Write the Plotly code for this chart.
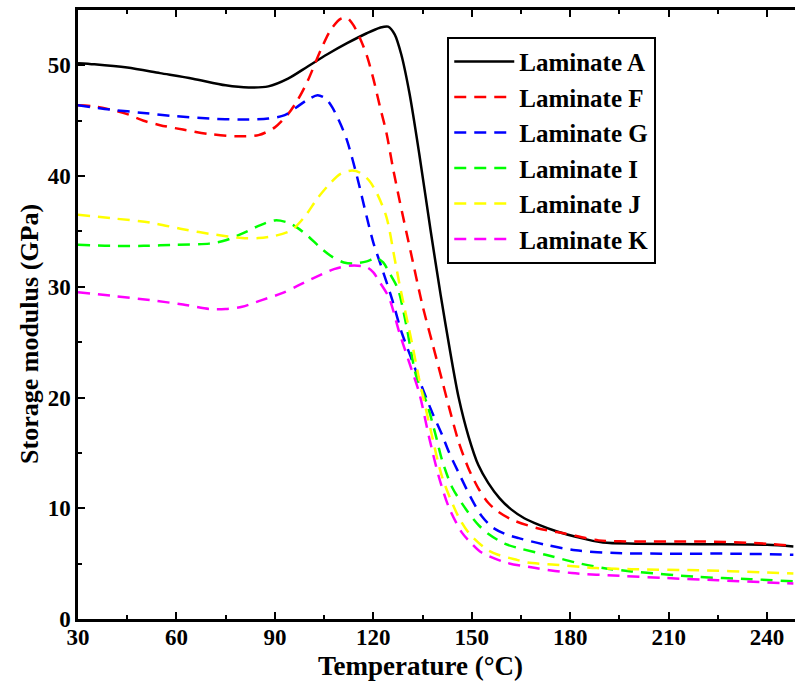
import plotly.graph_objects as go

# ---- data ----
T_A = [30, 35, 45, 55, 65, 75, 82, 88, 94, 100, 106, 112, 118, 122, 124.5, 126.5, 128.5, 131, 134, 137.5, 140.5, 143.5, 146, 149, 152, 155, 158.5, 162, 166, 170.5, 176, 182, 190, 200, 220, 240, 248]
E_A = [50.2, 50.1, 49.8, 49.3, 48.8, 48.2, 48.0, 48.1, 48.8, 49.9, 51.0, 52.0, 52.9, 53.4, 53.5, 52.8, 51.0, 47.5, 42.0, 35.0, 29.3, 24.0, 20.0, 16.5, 13.9, 12.3, 10.9, 9.9, 9.1, 8.5, 7.9, 7.4, 6.9, 6.8, 6.75, 6.7, 6.55]

T_F = [30, 35, 40, 45, 50, 55, 62, 70, 78, 85, 90, 94, 97, 100, 104, 107, 110, 112, 114, 116, 118, 120, 122, 124, 126, 128, 131.5, 135, 138, 141, 143, 146, 149, 152, 155, 158, 162, 170, 178.6, 188.7, 200, 220, 240, 248]
E_F = [46.4, 46.3, 46.0, 45.6, 45.0, 44.6, 44.2, 43.8, 43.6, 43.7, 44.4, 45.6, 46.9, 48.6, 51.4, 53.2, 54.2, 54.3, 53.6, 52.4, 50.9, 48.8, 46.3, 43.9, 40.7, 37.8, 33.0, 28.3, 24.9, 21.5, 19.2, 16.0, 13.6, 11.8, 10.5, 9.7, 9.0, 8.2, 7.7, 7.1, 7.0, 7.0, 6.8, 6.6]

T_G = [30, 40, 50, 60, 70, 80, 88, 93, 96.5, 100, 103, 105.5, 107.5, 110, 112, 115, 118, 120, 122.7, 125.8, 128.5, 131.5, 134.5, 138, 141, 143, 146.5, 150, 153, 156.2, 160, 164.3, 172.5, 181.7, 194, 210, 230, 248]
E_G = [46.4, 46.0, 45.7, 45.4, 45.2, 45.1, 45.2, 45.5, 46.2, 46.9, 47.3, 47.0, 46.2, 44.7, 43.2, 40.0, 36.3, 34.0, 31.6, 28.8, 26.0, 23.6, 21.2, 18.6, 16.6, 15.1, 12.9, 10.8, 9.3, 8.3, 7.7, 7.3, 6.7, 6.2, 5.95, 5.9, 5.9, 5.8]

T_I = [30, 40, 50, 60, 70, 75, 80, 85, 90, 94, 97, 100, 104, 107.5, 111, 114, 118, 121, 123, 125, 127.5, 130, 133, 136.4, 139, 141, 144, 148.5, 152, 155, 160, 164.3, 172.5, 181.7, 190, 198.7, 219, 235, 248]
E_I = [33.8, 33.7, 33.7, 33.8, 33.9, 34.2, 34.8, 35.5, 36.0, 35.8, 35.3, 34.6, 33.5, 32.7, 32.2, 32.1, 32.3, 32.6, 32.2, 31.2, 29.8, 26.6, 22.0, 19.4, 16.6, 14.3, 11.9, 9.8, 8.5, 7.7, 6.8, 6.4, 5.8, 5.1, 4.6, 4.3, 3.8, 3.6, 3.4]

T_J = [30, 40, 52, 62, 72, 80, 85, 90, 95, 99, 103, 107, 110, 113.5, 116, 118.7, 121, 124, 126.4, 128, 131.8, 134, 137, 141, 146, 149, 152, 155, 158, 163, 167, 175.5, 188, 198.7, 219, 240, 248]
E_J = [36.5, 36.2, 35.8, 35.2, 34.7, 34.4, 34.4, 34.6, 35.1, 36.3, 38.0, 39.4, 40.2, 40.5, 40.3, 39.6, 38.5, 36.3, 32.7, 30.2, 24.9, 21.6, 17.7, 12.8, 9.2, 7.8, 6.9, 6.2, 5.8, 5.4, 5.1, 4.9, 4.6, 4.5, 4.4, 4.2, 4.1]

T_K = [30, 40, 52, 62, 70, 75, 80, 86, 92, 97, 102.6, 108, 112.7, 117.8, 120, 122, 124.8, 128, 131, 134, 137, 140, 143, 147, 150, 153, 160.4, 169.5, 180.5, 195, 209, 225, 244, 248]
E_K = [29.5, 29.2, 28.8, 28.4, 28.0, 28.0, 28.2, 28.8, 29.4, 30.1, 30.9, 31.6, 31.9, 31.8, 31.3, 30.4, 29.0, 25.8, 23.1, 20.4, 16.4, 12.8, 10.1, 7.8, 6.8, 6.0, 5.1, 4.6, 4.15, 3.9, 3.7, 3.5, 3.25, 3.2]

names = ["Laminate A", "Laminate F", "Laminate G", "Laminate I", "Laminate J", "Laminate K"]
xs = [T_A, T_F, T_G, T_I, T_J, T_K]
ys = [E_A, E_F, E_G, E_I, E_J, E_K]
colors = ["#000000", "#ff0000", "#0000ff", "#00ff00", "#ffff00", "#ff00ff"]
dashes = ["solid", "12px,8px", "12px,8px", "12px,8px", "12px,8px", "12px,8px"]

x_ticks = [30, 60, 90, 120, 150, 180, 210, 240]
y_ticks = [0, 10, 20, 30, 40, 50]

FONT = "Liberation Serif"

fig = go.Figure()
for n, x, y, c, d in zip(names, xs, ys, colors, dashes):
    fig.add_trace(go.Scatter(
        x=x, y=y, name=n, mode="lines",
        line=dict(color=c, width=2.5, dash=d, shape="spline", smoothing=0.8),
    ))

axis_common = dict(
    showline=True, linecolor="black", linewidth=2.5,
    ticks="inside", ticklen=7, tickwidth=2, tickcolor="black",
    showgrid=False, zeroline=False,
    tickfont=dict(family=FONT, size=23, color="black", weight="bold"),
)

fig.update_xaxes(
    range=[30, 248.5], tickvals=x_ticks,
    mirror="ticks", ticklabelstandoff=-4,
    minor=dict(ticks="inside", ticklen=4, tickwidth=2, tickcolor="black",
               tickvals=[t + 15 for t in x_ticks]),
    **axis_common,
)
fig.update_yaxes(
    range=[0, 55], tickvals=y_ticks,
    minor=dict(ticks="inside", ticklen=4, tickwidth=2, tickcolor="black",
               tickvals=[t + 5 for t in y_ticks]),
    **axis_common,
)

fig.add_annotation(
    text="Temperature (°C)", xref="paper", yref="paper", x=0.477, y=-0.0775,
    xanchor="center", yanchor="middle", showarrow=False,
    font=dict(family=FONT, size=27, color="black", weight="bold"),
)
fig.add_annotation(
    text="Storage modulus (GPa)", xref="paper", yref="paper", x=-0.067, y=0.468,
    xanchor="center", yanchor="middle", showarrow=False, textangle=-90,
    font=dict(family=FONT, size=26, color="black", weight="bold"),
)

fig.update_layout(
    width=795, height=681,
    margin=dict(l=78, r=0, t=10, b=62),
    plot_bgcolor="white", paper_bgcolor="white",
    legend=dict(
        x=0.515, y=0.956, xanchor="left", yanchor="top",
        bgcolor="white", bordercolor="black", borderwidth=2,
        font=dict(family=FONT, size=25, color="black", weight="bold"),
        itemwidth=60, tracegroupgap=0,
    ),
    showlegend=True,
)

fig.write_html("out.html")
